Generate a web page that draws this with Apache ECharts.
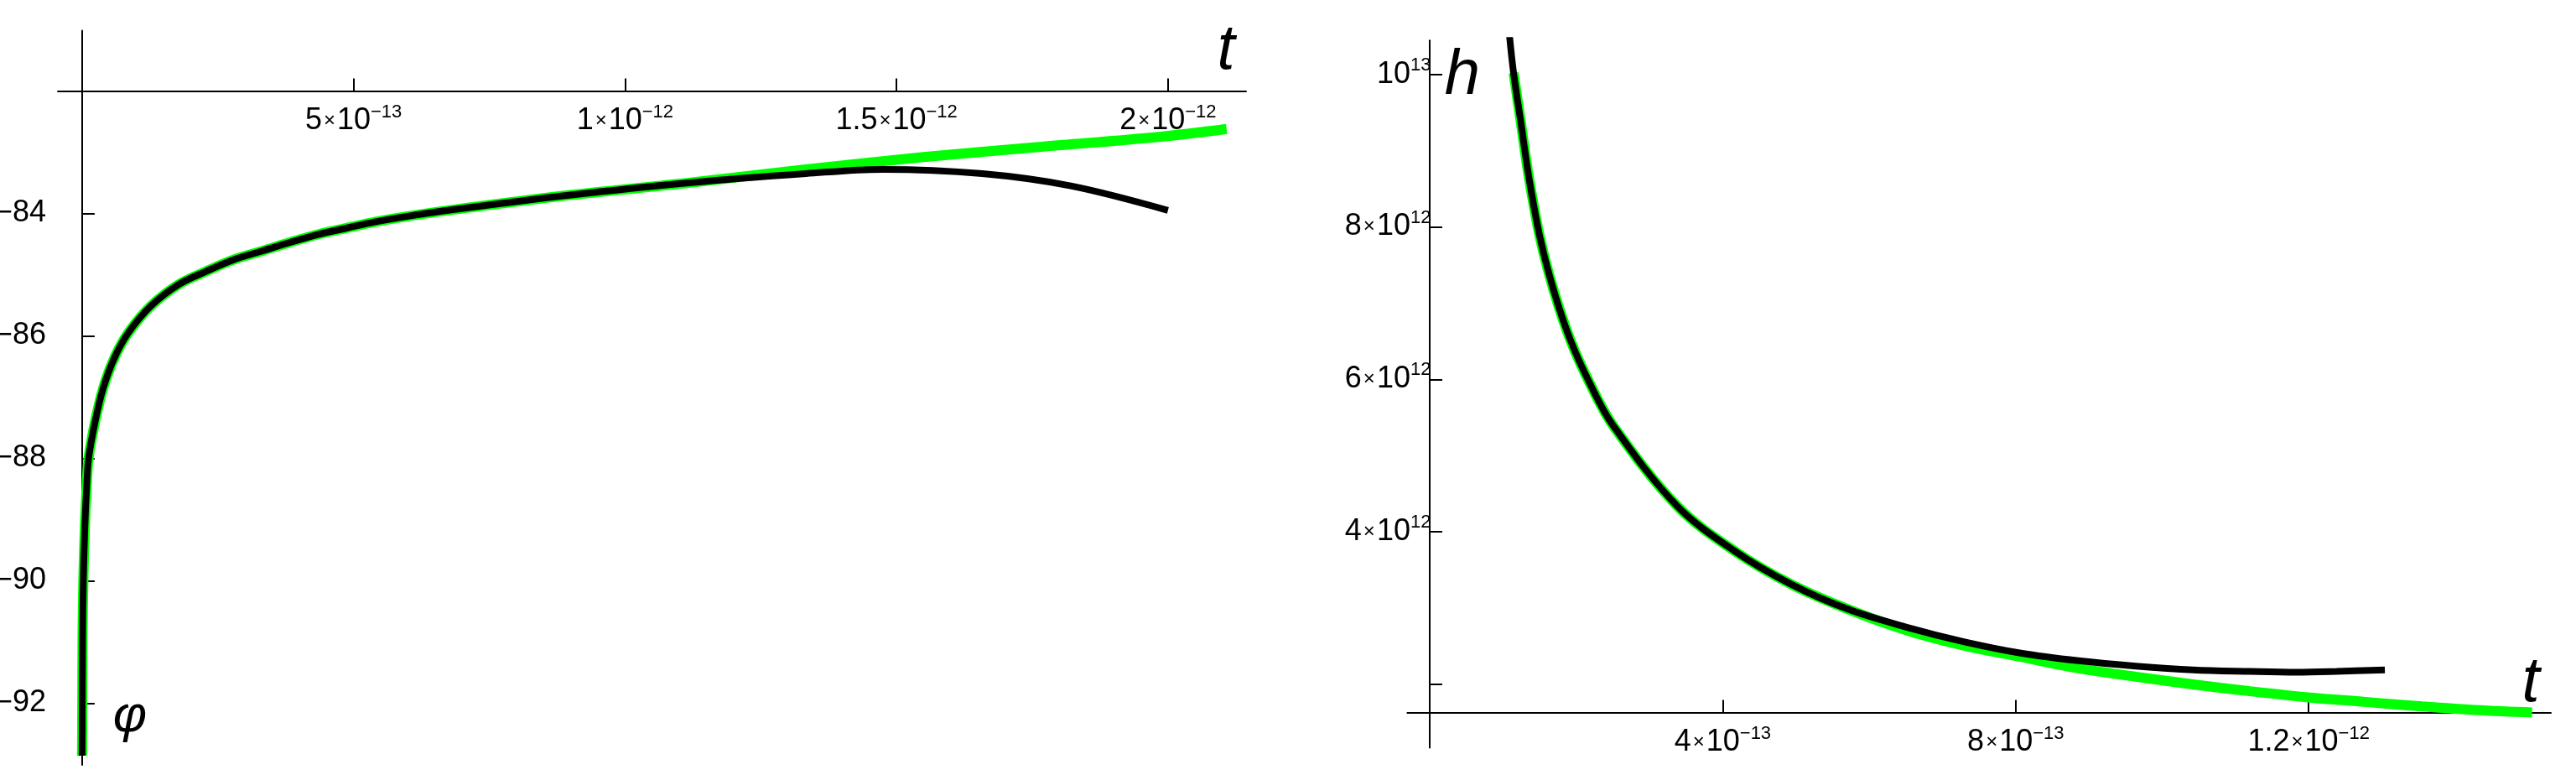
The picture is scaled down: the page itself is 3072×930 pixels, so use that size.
<!DOCTYPE html>
<html>
<head>
<meta charset="utf-8">
<script src="https://cdn.jsdelivr.net/npm/echarts@6/dist/echarts.min.js"></script>
<style>
  html, body { margin: 0; padding: 0; background: #fff; }
  #chart { width: 3072px; height: 930px; }
</style>
</head>
<body>
<div id="chart"></div>
<script>
// ---- left panel: phi(t), both curves share the early part ----
const phiSharedT = [0, 0.008e-13, 0.023e-13, 0.05e-13, 0.085e-13, 0.12e-13, 0.24e-13, 0.39e-13, 0.60e-13, 0.86e-13,
  1.27e-13, 1.78e-13, 2.30e-13, 2.81e-13, 3.33e-13, 3.84e-13, 4.36e-13, 4.87e-13, 5.39e-13, 5.90e-13,
  6.83e-13, 9.0e-13, 11.17e-13];
const phiShared = [-92.86, -90.96, -90.0, -89.14, -88.45, -88.0, -87.40, -86.85, -86.35, -85.94,
  -85.51, -85.16, -84.94, -84.75, -84.61, -84.47, -84.34, -84.24, -84.14, -84.06,
  -83.94, -83.70, -83.50];
const phiGreenTailT = [13.33e-13, 15.5e-13, 17.67e-13, 19.83e-13, 21.08e-13];
const phiGreenTail = [-83.28, -83.08, -82.91, -82.75, -82.62];
const phiBlackTailT = [13.33e-13, 14.74e-13, 16.58e-13, 18.21e-13, 20.0e-13];
const phiBlackTail = [-83.35, -83.28, -83.35, -83.55, -83.95];

// ---- right panel: h(t) ----
const hSharedT = [1.145e-13, 1.24e-13, 1.354e-13, 1.508e-13, 1.698e-13, 1.927e-13, 2.195e-13, 2.50e-13,
  3.377e-13, 4.16e-13, 4.94e-13, 5.725e-13];
const hShared = [10.02e12, 9.40e12, 8.65e12, 7.85e12, 7.15e12, 6.50e12, 5.93e12, 5.40e12,
  4.34e12, 3.75e12, 3.31e12, 2.98e12];
const hBlackHeadT = [1.09e-13];
const hBlackHead = [10.50e12];
const hGreenTailT = [6.51e-13, 7.29e-13, 8.07e-13, 8.86e-13, 9.64e-13, 10.42e-13, 11.20e-13, 11.99e-13,
  12.77e-13, 13.55e-13, 14.33e-13, 15.05e-13];
const hGreenTail = [2.71e12, 2.51e12, 2.36e12, 2.21e12, 2.10e12, 2.00e12, 1.91e12, 1.83e12,
  1.77e12, 1.71e12, 1.66e12, 1.63e12];
const hBlackTailT = [6.51e-13, 7.29e-13, 8.07e-13, 8.86e-13, 9.64e-13, 10.42e-13, 11.20e-13, 11.83e-13,
  12.38e-13, 13.04e-13];
const hBlackTail = [2.75e12, 2.56e12, 2.41e12, 2.31e12, 2.24e12, 2.19e12, 2.17e12, 2.16e12,
  2.17e12, 2.19e12];

// ---- ticks and labels (mantissa, exponent) ----
const phiTimeTicks = [5e-13, 1e-12, 1.5e-12, 2e-12];
const phiTimeLabels = [['5', '−13'], ['1', '−12'], ['1.5', '−12'], ['2', '−12']];
const phiTicks = [-84, -86, -88, -90, -92];
const hTimeTicks = [4e-13, 8e-13, 1.2e-12];
const hTimeLabels = [['4', '−13'], ['8', '−13'], ['1.2', '−12']];
const hTicks = [2e12, 4e12, 6e12, 8e12, 1e13];
const hLabels = [null, ['4', '12'], ['6', '12'], ['8', '12'], ['', '13']];

const FONT = '"Liberation Sans", Arial, sans-serif';
const GREEN = '#00ff00';
const BLACK = '#000000';

const pairs = (xs, ys) => xs.map((x, i) => [x, ys[i]]);

// "5×10^-13" as rich text, mantissa dropped when empty (10^13)
const sciFormatter = (ticks, labels) => (value) => {
  const i = ticks.findIndex(v => Math.abs(v - value) <= Math.abs(v) * 1e-6);
  if (i < 0 || !labels[i]) return '';
  const [m, e] = labels[i];
  const head = m ? '{m|' + m + '}{x|×}' : '';
  return head + '{m|10}{e|' + e + '}';
};

const richSci = {
  m: { fontSize: 36, lineHeight: 44, fontFamily: FONT, color: '#000' },
  x: { fontSize: 24, lineHeight: 44, fontFamily: FONT, color: '#000', padding: [0, 2, 0, 2] },
  e: { fontSize: 22, verticalAlign: 'top', fontFamily: FONT, color: '#000' }
};

const axisLineStyle = { show: true, lineStyle: { color: '#000', width: 2 } };
const tickStyle = (inside) => ({ show: true, inside: inside, length: 15, lineStyle: { color: '#000', width: 2 } });

// grid geometry (pixels); the small extra grids only carry the axis line past the crossing
const gridPhi = { left: 69, top: 108.5, width: 1417, height: 803.5, outerBoundsMode: 'none' };
const gridPhiTop = { left: 69, top: 36.5, width: 1417, height: 72, outerBoundsMode: 'none' };
const gridH = { left: 1678.4, top: 48.3, width: 1363.6, height: 801.2, outerBoundsMode: 'none' };
const gridHBottom = { left: 1678.4, top: 849.5, width: 1363.6, height: 42, outerBoundsMode: 'none' };

const phiTimeRange = { min: -0.4463e-13, max: 21.439e-13 };
const hTimeRange = { min: -0.3045e-13, max: 15.306e-13 };

const hiddenX = (range, gridIndex) => ({
  type: 'value', gridIndex: gridIndex, min: range.min, max: range.max, show: false,
  axisLine: { show: false, onZero: false }, splitLine: { show: false }
});
const lineOnly = (gridIndex) => ({
  type: 'value', gridIndex: gridIndex, min: 0, max: 1,
  axisLine: Object.assign({ onZero: true }, axisLineStyle),
  axisTick: { show: false }, axisLabel: { show: false }, splitLine: { show: false }
});

const lineSeries = (name, axisIndex, data, color, width) => ({
  name: name, type: 'line', xAxisIndex: axisIndex, yAxisIndex: axisIndex,
  showSymbol: false, smooth: 0.35, data: data,
  lineStyle: { color: color, width: width }
});

const chart = echarts.init(document.getElementById('chart'), null, { renderer: 'canvas' });

chart.setOption({
  animation: false,
  backgroundColor: '#fff',
  grid: [gridPhi, gridPhiTop, gridH, gridHBottom],
  xAxis: [
    {
      type: 'value', gridIndex: 0, position: 'top', min: phiTimeRange.min, max: phiTimeRange.max,
      axisLine: Object.assign({ onZero: false }, axisLineStyle),
      axisTick: Object.assign(tickStyle(false), { customValues: phiTimeTicks }),
      axisLabel: {
        inside: true, margin: 14, customValues: phiTimeTicks,
        formatter: sciFormatter(phiTimeTicks, phiTimeLabels), rich: richSci
      },
      splitLine: { show: false }
    },
    hiddenX(phiTimeRange, 1),
    {
      type: 'value', gridIndex: 2, position: 'bottom', min: hTimeRange.min, max: hTimeRange.max,
      axisLine: Object.assign({ onZero: false }, axisLineStyle),
      axisTick: Object.assign(tickStyle(true), { customValues: hTimeTicks }),
      axisLabel: {
        margin: 14, customValues: hTimeTicks,
        formatter: sciFormatter(hTimeTicks, hTimeLabels), rich: richSci
      },
      splitLine: { show: false }
    },
    hiddenX(hTimeRange, 3)
  ],
  yAxis: [
    {
      type: 'value', gridIndex: 0, min: -93.01, max: -82,
      axisLine: Object.assign({ onZero: true }, axisLineStyle),
      axisTick: Object.assign(tickStyle(true), { customValues: phiTicks }),
      axisLabel: {
        margin: 14, customValues: phiTicks, rich: richSci,
        formatter: v => '{m|−' + Math.abs(v) + '}'
      },
      splitLine: { show: false }
    },
    lineOnly(1),
    {
      type: 'value', gridIndex: 2, min: 1.631e12, max: 10.445e12,
      axisLine: Object.assign({ onZero: true }, axisLineStyle),
      axisTick: Object.assign(tickStyle(true), { customValues: hTicks }),
      axisLabel: {
        // labels otherwise land ~45px too far left here
        margin: -28, customValues: hTicks,
        formatter: sciFormatter(hTicks, hLabels), rich: richSci
      },
      splitLine: { show: false }
    },
    lineOnly(3)
  ],
  graphic: [
    { type: 'text', x: 1462, y: 61, style: { text: 't', font: 'italic 76px ' + FONT, fill: '#000', align: 'center', verticalAlign: 'middle' } },
    { type: 'text', x: 155, y: 855, style: { text: 'φ', font: 'italic 62px ' + FONT, fill: '#000', align: 'center', verticalAlign: 'middle' } },
    { type: 'text', x: 1744, y: 91, style: { text: 'h', font: 'italic 76px ' + FONT, fill: '#000', align: 'center', verticalAlign: 'middle' } },
    { type: 'text', x: 3018, y: 815, style: { text: 't', font: 'italic 76px ' + FONT, fill: '#000', align: 'center', verticalAlign: 'middle' } }
  ],
  series: [
    lineSeries('phi green', 0, pairs(phiSharedT.concat(phiGreenTailT), phiShared.concat(phiGreenTail)), GREEN, 12),
    lineSeries('phi black', 0, pairs(phiSharedT.concat(phiBlackTailT), phiShared.concat(phiBlackTail)), BLACK, 8),
    lineSeries('h green', 2, pairs(hSharedT.concat(hGreenTailT), hShared.concat(hGreenTail)), GREEN, 12),
    lineSeries('h black', 2, pairs(hBlackHeadT.concat(hSharedT, hBlackTailT), hBlackHead.concat(hShared, hBlackTail)), BLACK, 8)
  ]
});
</script>
</body>
</html>
